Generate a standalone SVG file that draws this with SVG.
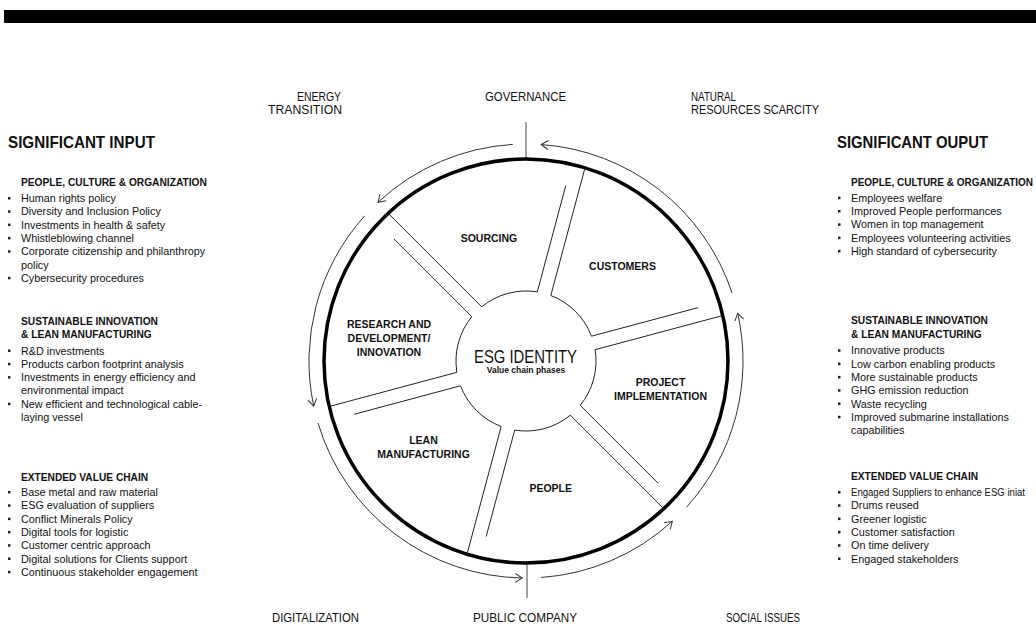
<svg xmlns="http://www.w3.org/2000/svg" width="1036" height="624" viewBox="0 0 1036 624">
<style>
.t{font-family:"Liberation Sans",Arial,sans-serif;fill:#111}
.body{font-size:10.8px}
.h{font-size:10.2px;font-weight:bold}
.title{font-size:17px;font-weight:bold}
.lbl{font-size:13px}
.st{font-size:10.5px;font-weight:bold;text-anchor:middle}
.seg{fill:none;stroke:#222;stroke-width:1}
.flow{fill:none;stroke:#333;stroke-width:1;marker-end:url(#ah)}
.axis{fill:none;stroke:#444;stroke-width:1}
.b{fill:#222}
</style>
<defs>
<marker id="ah" markerUnits="userSpaceOnUse" markerWidth="12" markerHeight="12" viewBox="-9 -6 10 12" refX="0" refY="0" orient="auto">
<path d="M-7,-4.5 L0,0 L-7,4.5" fill="none" stroke="#333" stroke-width="1"/>
</marker>
</defs>
<rect x="4" y="10" width="1032" height="13" fill="#000"/>

<g id="input-panel">
<text class="t title" x="8" y="148" textLength="147" lengthAdjust="spacingAndGlyphs">SIGNIFICANT INPUT</text>
<text class="t h" x="21" y="185.5">PEOPLE, CULTURE &amp; ORGANIZATION</text>
<g class="t body">
<text x="21" y="202">Human rights policy</text>
<text x="21" y="215.3">Diversity and Inclusion Policy</text>
<text x="21" y="228.6">Investments in health &amp; safety</text>
<text x="21" y="241.9">Whistleblowing channel</text>
<text x="21" y="255.2">Corporate citizenship and philanthropy</text>
<text x="21" y="268.5">policy</text>
<text x="21" y="281.8">Cybersecurity procedures</text>
</g>
<text class="t h" x="21" y="324.5">SUSTAINABLE INNOVATION</text>
<text class="t h" x="21" y="337.8">&amp; LEAN MANUFACTURING</text>
<g class="t body">
<text x="21" y="354.5">R&amp;D investments</text>
<text x="21" y="367.8">Products carbon footprint analysis</text>
<text x="21" y="381.1">Investments in energy efficiency and</text>
<text x="21" y="394.4">environmental impact</text>
<text x="21" y="407.7">New efficient and technological cable-</text>
<text x="21" y="421">laying vessel</text>
</g>
<text class="t h" x="21" y="480.5">EXTENDED VALUE CHAIN</text>
<g class="t body">
<text x="21" y="496">Base metal and raw material</text>
<text x="21" y="509.3">ESG evaluation of suppliers</text>
<text x="21" y="522.6">Conflict Minerals Policy</text>
<text x="21" y="535.9">Digital tools for logistic</text>
<text x="21" y="549.2">Customer centric approach</text>
<text x="21" y="562.5">Digital solutions for Clients support</text>
<text x="21" y="575.8">Continuous stakeholder engagement</text>
</g>
<g class="b">
<rect x="8" y="197" width="2.5" height="2.5"/>
<rect x="8" y="210.3" width="2.5" height="2.5"/>
<rect x="8" y="223.6" width="2.5" height="2.5"/>
<rect x="8" y="236.9" width="2.5" height="2.5"/>
<rect x="8" y="250.2" width="2.5" height="2.5"/>
<rect x="8" y="276.8" width="2.5" height="2.5"/>
<rect x="8" y="349.5" width="2.5" height="2.5"/>
<rect x="8" y="362.8" width="2.5" height="2.5"/>
<rect x="8" y="376.1" width="2.5" height="2.5"/>
<rect x="8" y="402.7" width="2.5" height="2.5"/>
<rect x="8" y="491" width="2.5" height="2.5"/>
<rect x="8" y="504.3" width="2.5" height="2.5"/>
<rect x="8" y="517.6" width="2.5" height="2.5"/>
<rect x="8" y="530.9" width="2.5" height="2.5"/>
<rect x="8" y="544.2" width="2.5" height="2.5"/>
<rect x="8" y="557.5" width="2.5" height="2.5"/>
<rect x="8" y="570.8" width="2.5" height="2.5"/>
</g>
</g>

<g id="output-panel">
<text class="t title" x="837" y="148" textLength="151" lengthAdjust="spacingAndGlyphs">SIGNIFICANT OUPUT</text>
<text class="t h" x="851" y="185.7" textLength="182" lengthAdjust="spacingAndGlyphs">PEOPLE, CULTURE &amp; ORGANIZATION</text>
<g class="t body">
<text x="851" y="201.7">Employees welfare</text>
<text x="851" y="215">Improved People performances</text>
<text x="851" y="228.3">Women in top management</text>
<text x="851" y="241.6">Employees volunteering activities</text>
<text x="851" y="254.9">High standard of cybersecurity</text>
</g>
<text class="t h" x="851" y="324.3">SUSTAINABLE INNOVATION</text>
<text class="t h" x="851" y="337.6">&amp; LEAN MANUFACTURING</text>
<g class="t body">
<text x="851" y="354.3">Innovative products</text>
<text x="851" y="367.6">Low carbon enabling products</text>
<text x="851" y="380.9">More sustainable products</text>
<text x="851" y="394.2">GHG emission reduction</text>
<text x="851" y="407.5">Waste recycling</text>
<text x="851" y="420.8">Improved submarine installations</text>
<text x="851" y="434.1">capabilities</text>
</g>
<text class="t h" x="851" y="480">EXTENDED VALUE CHAIN</text>
<g class="t body">
<text x="851" y="496" font-size="10.2" textLength="174" lengthAdjust="spacingAndGlyphs">Engaged Suppliers to enhance ESG iniat</text>
<text x="851" y="509.3">Drums reused</text>
<text x="851" y="522.6">Greener logistic</text>
<text x="851" y="535.9">Customer satisfaction</text>
<text x="851" y="549.2">On time delivery</text>
<text x="851" y="562.5">Engaged stakeholders</text>
</g>
<g class="b">
<rect x="838" y="196.7" width="2.5" height="2.5"/>
<rect x="838" y="210" width="2.5" height="2.5"/>
<rect x="838" y="223.3" width="2.5" height="2.5"/>
<rect x="838" y="236.6" width="2.5" height="2.5"/>
<rect x="838" y="249.9" width="2.5" height="2.5"/>
<rect x="838" y="349.3" width="2.5" height="2.5"/>
<rect x="838" y="362.6" width="2.5" height="2.5"/>
<rect x="838" y="375.9" width="2.5" height="2.5"/>
<rect x="838" y="389.2" width="2.5" height="2.5"/>
<rect x="838" y="402.5" width="2.5" height="2.5"/>
<rect x="838" y="415.8" width="2.5" height="2.5"/>
<rect x="838" y="491" width="2.5" height="2.5"/>
<rect x="838" y="504.3" width="2.5" height="2.5"/>
<rect x="838" y="517.6" width="2.5" height="2.5"/>
<rect x="838" y="530.9" width="2.5" height="2.5"/>
<rect x="838" y="544.2" width="2.5" height="2.5"/>
<rect x="838" y="557.5" width="2.5" height="2.5"/>
</g>
</g>

<g id="context-labels" class="t lbl">
<text x="297" y="101" textLength="44" lengthAdjust="spacingAndGlyphs">ENERGY</text>
<text x="268" y="114" textLength="74" lengthAdjust="spacingAndGlyphs">TRANSITION</text>
<text x="485" y="101" textLength="81" lengthAdjust="spacingAndGlyphs">GOVERNANCE</text>
<text x="691" y="101" textLength="45" lengthAdjust="spacingAndGlyphs">NATURAL</text>
<text x="691" y="114" textLength="128" lengthAdjust="spacingAndGlyphs">RESOURCES SCARCITY</text>
<text x="272" y="621.5" textLength="87" lengthAdjust="spacingAndGlyphs">DIGITALIZATION</text>
<text x="473" y="621.5" textLength="104" lengthAdjust="spacingAndGlyphs">PUBLIC COMPANY</text>
<text x="726" y="621.5" textLength="74" lengthAdjust="spacingAndGlyphs">SOCIAL ISSUES</text>
</g>

<g id="connectors">
<path class="axis" d="M526,122 V159"/>
<path class="axis" d="M527,563 V598"/>
<path class="flow" d="M732.0,292.9 A217,217 0 0 0 541.1,144.5"/>
<path class="flow" d="M512.8,144.4 A217,217 0 0 0 378.0,202.3"/>
<path class="flow" d="M364.7,215.8 A217,217 0 0 0 313.7,406.1"/>
<path class="flow" d="M318.0,423.0 A217,217 0 0 0 522.2,578.0"/>
<path class="flow" d="M541.1,577.5 A217,217 0 0 0 672.3,521.3"/>
<path class="flow" d="M686.3,507.3 A217,217 0 0 0 737.7,313.3"/>
</g>

<g id="wheel-rim">
<circle cx="526" cy="361" r="202" fill="none" stroke="#000" stroke-width="3.5"/>
</g>

<g id="seg-sourcing">
<path class="seg" d="M388.2,213.3 L481.7,306.8 A70,70 0 0 1 537.3,291.9 L565.8,185.5"/>
<text class="t st" x="489" y="242">SOURCING</text>
</g>
<g id="seg-customers">
<path class="seg" d="M585.0,167.8 L550.8,295.5 A70,70 0 0 1 591.5,336.2 L697.9,307.7"/>
<text class="t st" x="622.5" y="270">CUSTOMERS</text>
</g>
<g id="seg-project">
<path class="seg" d="M722.8,315.5 L595.1,349.7 A70,70 0 0 1 580.2,405.3 L658.1,483.2"/>
<text class="t st" x="660.5" y="386">PROJECT</text>
<text class="t st" x="660.5" y="399.5">IMPLEMENTATION</text>
</g>
<g id="seg-people">
<path class="seg" d="M663.8,508.7 L570.3,415.2 A70,70 0 0 1 514.7,430.1 L486.2,536.5"/>
<text class="t st" x="550.7" y="491.7">PEOPLE</text>
</g>
<g id="seg-lean">
<path class="seg" d="M467.0,554.2 L501.2,426.5 A70,70 0 0 1 460.5,385.8 L354.1,414.3"/>
<text class="t st" x="423.5" y="444">LEAN</text>
<text class="t st" x="423.5" y="458">MANUFACTURING</text>
</g>
<g id="seg-research">
<path class="seg" d="M329.2,406.5 L456.9,372.3 A70,70 0 0 1 471.8,316.7 L393.9,238.8"/>
<text class="t st" x="389" y="328.3">RESEARCH AND</text>
<text class="t st" x="389" y="342.3">DEVELOPMENT/</text>
<text class="t st" x="389" y="356">INNOVATION</text>
</g>
<g id="hub">
<text class="t" x="474" y="362.5" font-size="18" textLength="103" lengthAdjust="spacingAndGlyphs">ESG IDENTITY</text>
<text class="t" x="526" y="372.5" font-size="8.5" font-weight="bold" text-anchor="middle">Value chain phases</text>
</g>
</svg>
